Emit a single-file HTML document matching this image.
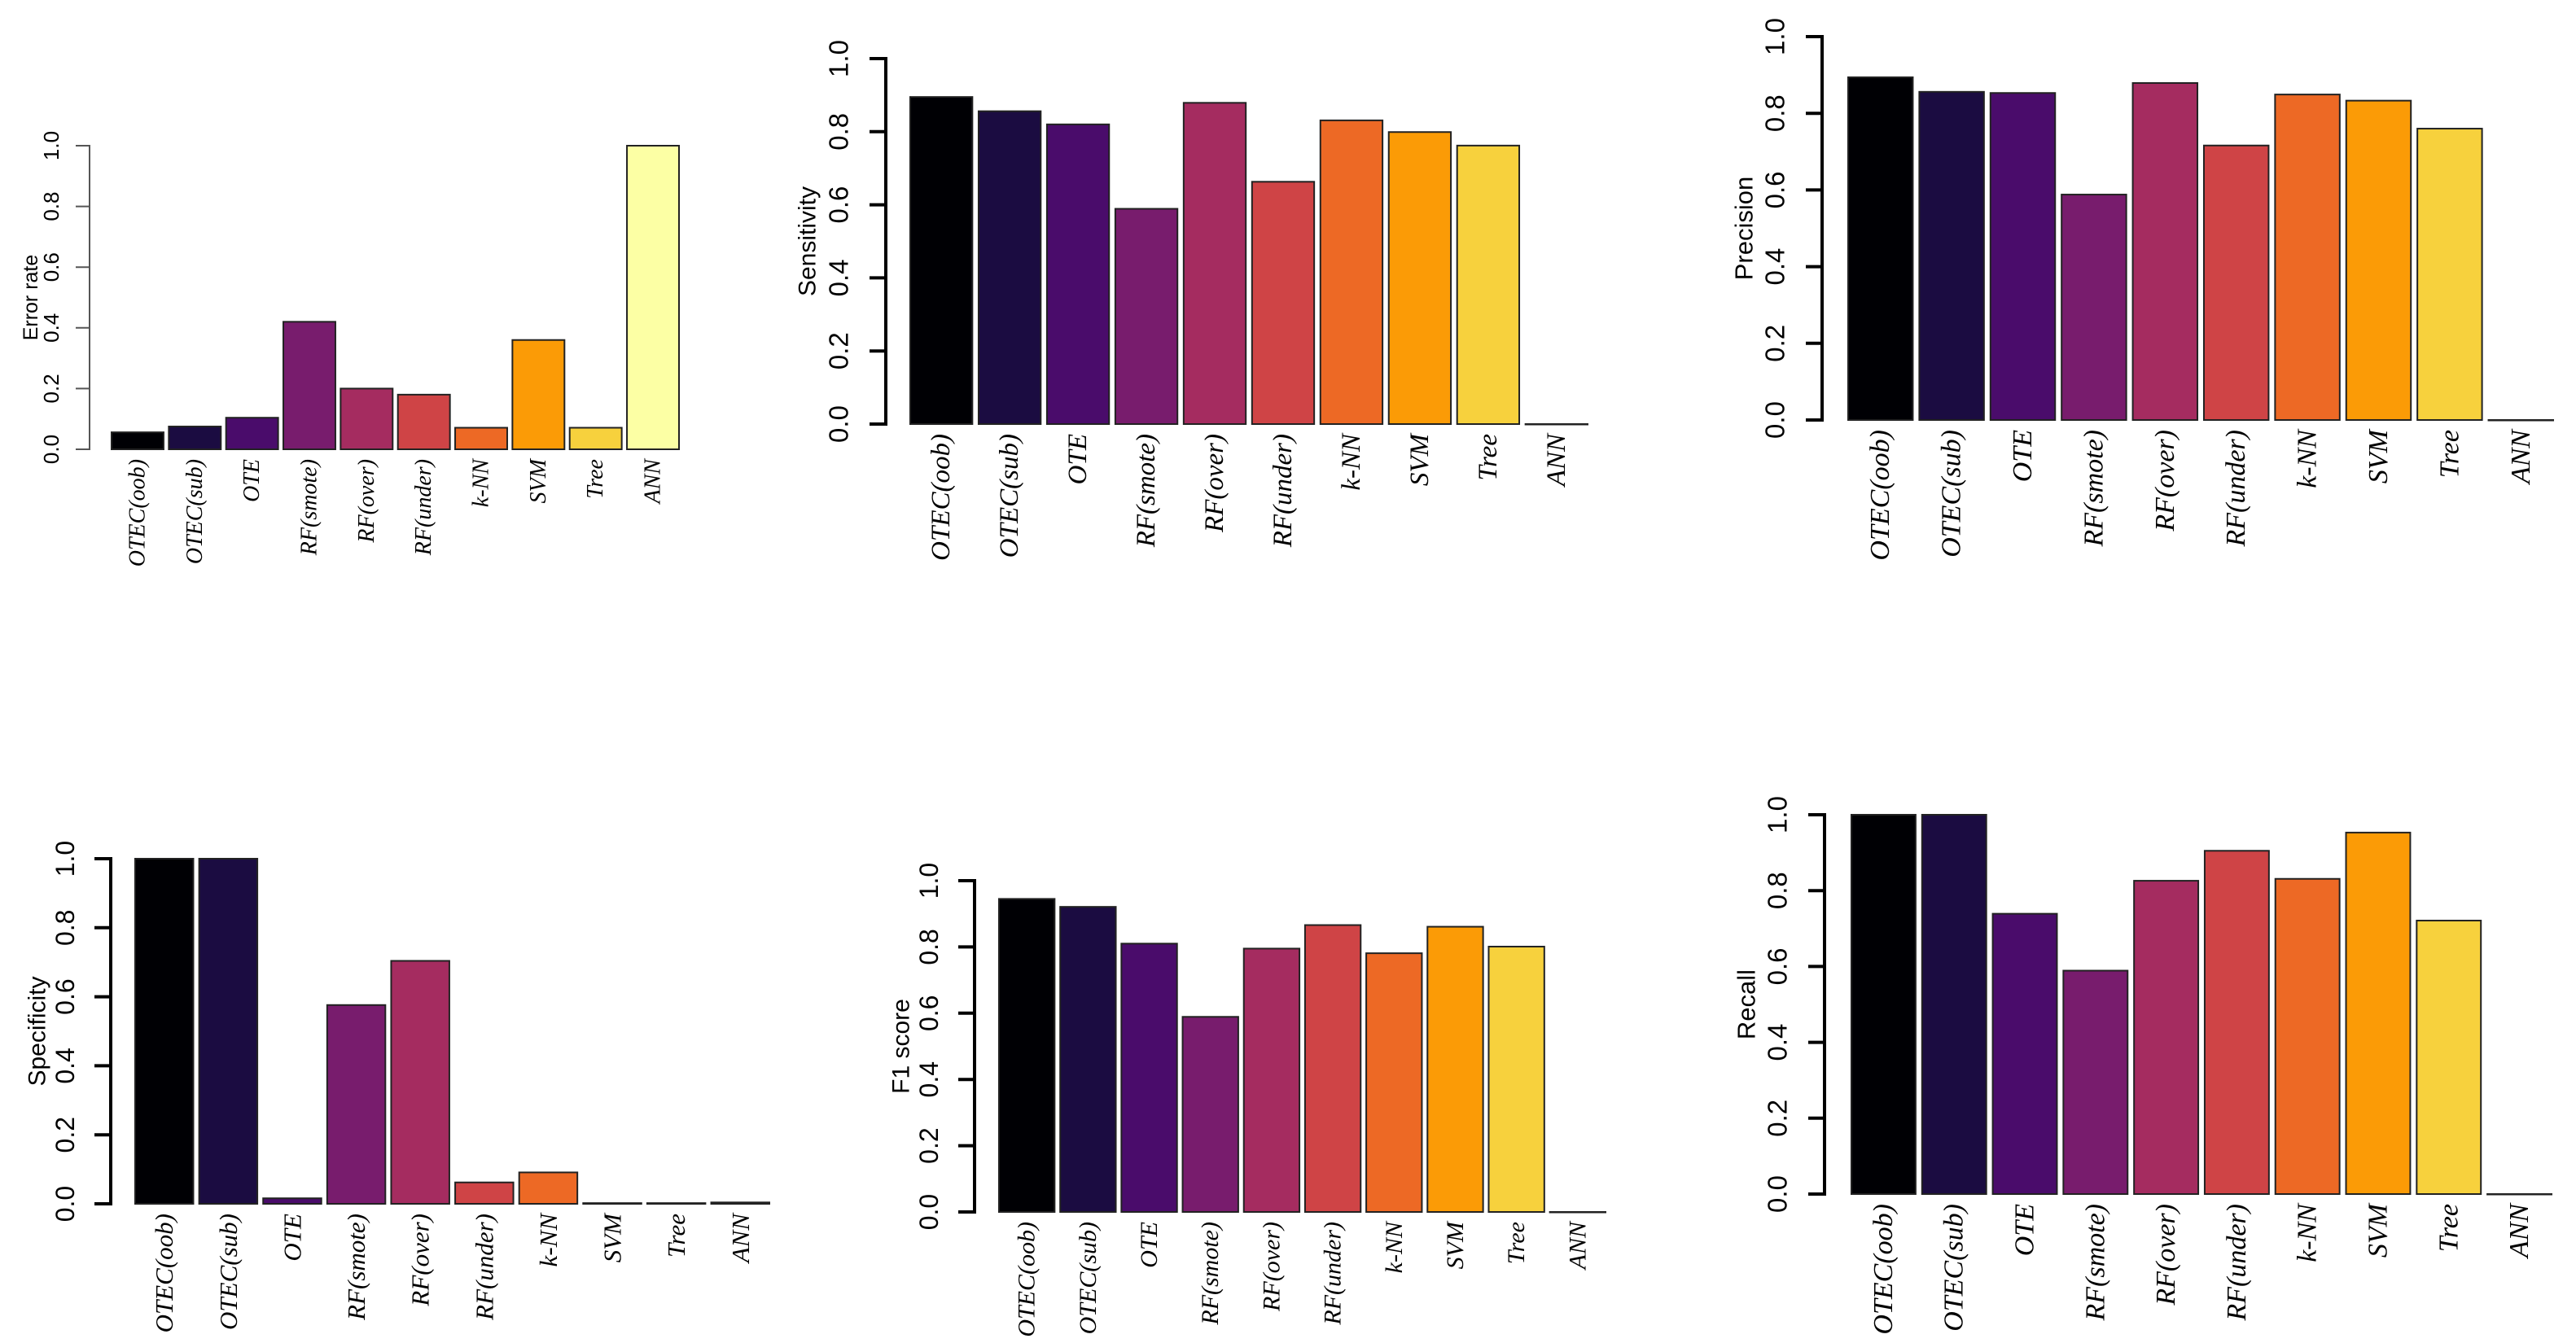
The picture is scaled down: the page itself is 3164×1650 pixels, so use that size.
<!DOCTYPE html>
<html><head><meta charset="utf-8">
<style>
html,body{margin:0;padding:0;background:#fff;}
svg{display:block;}
.tick{font-family:"Liberation Sans",sans-serif;fill:#000;}
.cat{font-family:"Liberation Serif",serif;font-style:italic;fill:#000;}
.ttl{font-family:"Liberation Sans",sans-serif;fill:#000;}
</style></head>
<body>
<svg id="chart" width="3164" height="1650" viewBox="0 0 3164 1650" xmlns="http://www.w3.org/2000/svg"></svg>
<script>
const categories = ["OTEC(oob)","OTEC(sub)","OTE","RF(smote)","RF(over)","RF(under)","k-NN","SVM","Tree","ANN"];
const tickValues = [0, 0.2, 0.4, 0.6, 0.8, 1.0];
const tickLabels = ["0.0","0.2","0.4","0.6","0.8","1.0"];
const errorRate   = [0.056,0.075,0.104,0.42,0.20,0.18,0.071,0.36,0.071,1.0];
const sensitivity = [0.895,0.856,0.820,0.589,0.879,0.663,0.831,0.799,0.762,0];
const precision   = [0.894,0.856,0.853,0.588,0.879,0.716,0.849,0.833,0.760,0];
const specificity = [1.0,1.0,0.016,0.576,0.704,0.062,0.091,0.002,0.002,0.004];
const f1Score     = [0.945,0.921,0.810,0.589,0.795,0.866,0.781,0.861,0.801,0];
const recall      = [1.0,1.0,0.739,0.589,0.826,0.905,0.831,0.953,0.721,0];
const colors = ["#000004","#1B0C41","#4A0C6B","#781C6D","#A52C60","#CF4446","#ED6925","#FB9B06","#F7D13D","#FCFFA4"];

const panels = [
 {name:"error-rate", title:"Error rate", values:errorRate, ax:110, y0:552, y1:179, bx0:137, bx1:834, tick:17, lblOff:47, ttlOff:72, fs:26, tfs:25, cfs:28, lw:2, axColor:"#555"},
 {name:"sensitivity", title:"Sensitivity", values:sensitivity, ax:1088, y0:521, y1:72, bx0:1118, bx1:1950, tick:20, lblOff:58, ttlOff:96, fs:33, tfs:30, cfs:33, lw:4, axColor:"#000"},
 {name:"precision", title:"Precision", values:precision, ax:2238, y0:516, y1:45, bx0:2270, bx1:3136, tick:20, lblOff:58, ttlOff:96, fs:33, tfs:31, cfs:34, lw:4, axColor:"#000"},
 {name:"specificity", title:"Specificity", values:specificity, ax:136, y0:1479, y1:1055, bx0:166, bx1:945, tick:20, lblOff:56, ttlOff:90, fs:32, tfs:30, cfs:31, lw:4, axColor:"#000"},
 {name:"f1-score", title:"F1 score", values:f1Score, ax:1197, y0:1489, y1:1082, bx0:1227, bx1:1972, tick:20, lblOff:56, ttlOff:90, fs:32, tfs:30, cfs:30, lw:4, axColor:"#000"},
 {name:"recall", title:"Recall", values:recall, ax:2241, y0:1467, y1:1001, bx0:2274, bx1:3134, tick:20, lblOff:58, ttlOff:96, fs:33, tfs:31, cfs:34, lw:4, axColor:"#000"}
];

const NS = "http://www.w3.org/2000/svg";
const svg = document.getElementById("chart");
function mk(tag, attrs, parent){
  const e = document.createElementNS(NS, tag);
  for (const k in attrs) e.setAttribute(k, attrs[k]);
  parent.appendChild(e);
  return e;
}

panels.forEach(p => {
  const g = mk("g", {}, svg);
  
  
  const yScale = v => p.y0 - v * (p.y0 - p.y1);
  const n = categories.length;
  const unit = (p.bx1 - p.bx0) / (n + (n - 1) * 0.1);
  const gap = unit * 0.1;
  const xScale = i => p.bx0 + i * (unit + gap);

  p.values.forEach((v, i) => {
    const x = xScale(i), y = yScale(v);
    const r = mk("rect", {x:x, y:y, width:unit, height:Math.max(p.y0 - y, 0.5), fill:colors[i], stroke:"#222", "stroke-width":2}, g);
    
    
    const t = mk("text", {class:"cat", x:x + unit/2, y:p.y0 + 12, "font-size":p.cfs, "text-anchor":"end", "dominant-baseline":"central", transform:`rotate(-90 ${x + unit/2} ${p.y0 + 12})`}, g);
    t.textContent = categories[i];
    
    
  });

  const axis = mk("line", {x1:p.ax, y1:p.y0, x2:p.ax, y2:p.y1, stroke:p.axColor, "stroke-width":p.lw}, g);
  
  
  tickValues.forEach((tv, k) => {
    const y = yScale(tv);
    const tl = mk("line", {x1:p.ax - p.tick, y1:y, x2:p.ax + p.lw/2, y2:y, stroke:p.axColor, "stroke-width":p.lw}, g);
    
    
    const lx = p.ax - p.lblOff;
    const t = mk("text", {class:"tick", x:lx, y:y, "font-size":p.fs, "text-anchor":"middle", "dominant-baseline":"central", transform:`rotate(-90 ${lx} ${y})`}, g);
    t.textContent = tickLabels[k];
    
    
  });
  const tx = p.ax - p.ttlOff, ty = (p.y0 + p.y1) / 2;
  const tt = mk("text", {class:"ttl", x:tx, y:ty, "font-size":p.tfs, "text-anchor":"middle", "dominant-baseline":"central", transform:`rotate(-90 ${tx} ${ty})`}, g);
  tt.textContent = p.title;
  
  
});
</script>
</body></html>
